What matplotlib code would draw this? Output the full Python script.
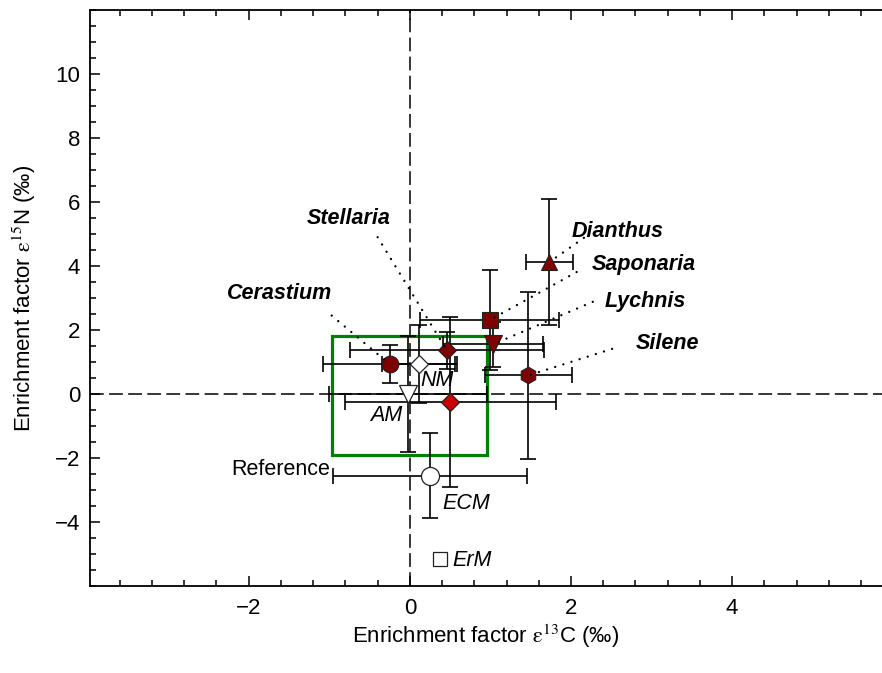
import matplotlib
matplotlib.use('Agg')
import matplotlib.pyplot as plt
from matplotlib.ticker import MultipleLocator
from matplotlib.patches import Rectangle

plt.rcParams['font.family'] = ['Liberation Sans Narrow', 'Liberation Sans', 'DejaVu Sans']
plt.rcParams['mathtext.fontset'] = 'stix'

# Caryophyllaceae species (dark red symbols)
species = ['Cerastium', 'Stellaria', 'Saponaria', 'Lychnis', 'Dianthus', 'Silene']
sp_x = [-0.25, 0.46, 0.99, 1.03, 1.73, 1.47]
sp_y = [0.93, 1.36, 2.31, 1.55, 4.12, 0.58]
sp_xerr = [0.83, 1.20, 0.86, 0.62, 0.29, 0.54]
sp_yerr = [0.59, 0.58, 1.56, 0.70, 1.96, 2.60]

# mycorrhizal reference groups
groups = ['NM', 'AM', 'ECM', 'Reference']
gr_x = [0.11, -0.02, 0.50, 0.25]
gr_y = [0.94, 0.00, -0.25, -2.56]
gr_xerr = [0.45, 0.98, 1.31, 1.20]
gr_yerr = [1.22, 1.80, 2.65, 1.33]

erm_x = 0.38
erm_y = -5.17

# green box (AM range)
box_x = [-0.97, 0.96]
box_y = [-1.90, 1.80]

sp_marker = ['o', 'D', 's', 'v', '^', 'h']
sp_ms = [12, 9.4, 11, 12.5, 11.5, 12]
gr_marker = ['D', 'v', 'D', 'o']
gr_ms = [9.4, 12.5, 9.4, 13]
gr_color = ['white', 'white', '#cc0000', 'white']
dark = '#7f0000'

# label placement: (x, y, ha) and start of the dotted leader line
sp_lab = [(-0.96, 2.97, 'right'), (-0.24, 5.30, 'right'), (2.26, 3.88, 'left'),
          (2.42, 2.72, 'left'), (2.01, 4.91, 'left'), (2.80, 1.40, 'left')]
sp_lead = [(-0.97, 2.45), (-0.40, 4.90), (2.07, 3.81), (2.27, 2.88), (2.16, 4.88), (2.51, 1.41)]
gr_lab = [(0.13, 0.41, 'left'), (-0.09, -0.66, 'right'), (0.40, -3.41, 'left'), (-0.99, -2.37, 'right')]

fig = plt.figure(figsize=(8.82, 6.73), dpi=100)
ax = fig.add_axes([90 / 882, 87 / 673, 792 / 882, 576 / 673])

ax.axvline(0, color='k', lw=1.1, ls=(0, (9, 3.5)), zorder=1)
ax.axhline(0, color='k', lw=1.1, ls=(0, (9, 3.5)), zorder=1)

ax.add_patch(Rectangle((box_x[0], box_y[0]), box_x[1] - box_x[0], box_y[1] - box_y[0],
                       fill=False, ec='#008000', lw=2.3, zorder=2))

ax.errorbar(sp_x, sp_y, xerr=sp_xerr, yerr=sp_yerr, fmt='none', ecolor='k',
            elinewidth=1.2, capsize=6, capthick=1.2, zorder=3)
ax.errorbar(gr_x, gr_y, xerr=gr_xerr, yerr=gr_yerr, fmt='none', ecolor='k',
            elinewidth=1.2, capsize=6, capthick=1.2, zorder=3)

for i in range(len(species)):
    ax.plot(sp_x[i], sp_y[i], marker=sp_marker[i], ms=sp_ms[i], mfc=dark, mec='#222222',
            mew=0.8, ls='none', zorder=4)
    lx, ly, ha = sp_lab[i]
    ax.text(lx, ly, species[i], ha=ha, va='baseline', fontsize=15.5, fontweight='bold',
            fontstyle='italic', family=['Liberation Sans', 'DejaVu Sans'])
    ax.plot([sp_lead[i][0], sp_x[i]], [sp_lead[i][1], sp_y[i]], color='k', lw=1.7,
            ls=(0, (0.01, 3.6)), dash_capstyle='round', zorder=5)

for i in range(len(groups)):
    ax.plot(gr_x[i], gr_y[i], marker=gr_marker[i], ms=gr_ms[i], mfc=gr_color[i], mec='#222222',
            mew=0.9, ls='none', zorder=4)
    lx, ly, ha = gr_lab[i]
    style = 'normal' if groups[i] == 'Reference' else 'italic'
    ax.text(lx, ly, groups[i], ha=ha, va='center', fontsize=15.5, fontstyle=style,
            family=['Liberation Sans', 'DejaVu Sans'])

ax.plot(erm_x, erm_y, marker='s', ms=10, mfc='white', mec='#222222', mew=0.9, ls='none', zorder=4)
ax.text(0.53, -5.19, 'ErM', ha='left', va='center', fontsize=15.5, fontstyle='italic',
        family=['Liberation Sans', 'DejaVu Sans'])

ax.set_xlim(-3.97, 5.86)
ax.set_ylim(-6, 12)
ax.set_xticks([-2, 0, 2, 4])
ax.set_yticks([-4, -2, 0, 2, 4, 6, 8, 10])
ax.xaxis.set_minor_locator(MultipleLocator(0.4))
ax.yaxis.set_minor_locator(MultipleLocator(0.5))
ax.tick_params(which='both', direction='in', top=True, right=False, width=1.1, labelsize=16)
ax.tick_params(which='major', length=7)
ax.tick_params(which='minor', length=4)
ax.tick_params(axis='x', which='major', pad=9)
ax.tick_params(axis='y', which='major', pad=7)
ax.spines['right'].set_visible(False)
for s in ['left', 'bottom', 'top']:
    ax.spines[s].set_linewidth(1.3)

ax.set_xlabel(r'Enrichment factor $\mathrm{\varepsilon}^{13}$C (‰)', fontsize=16, labelpad=2)
ax.set_ylabel(r'Enrichment factor $\mathrm{\varepsilon}^{15}$N (‰)', fontsize=16, labelpad=12)

fig.savefig('out.png', dpi=100)
